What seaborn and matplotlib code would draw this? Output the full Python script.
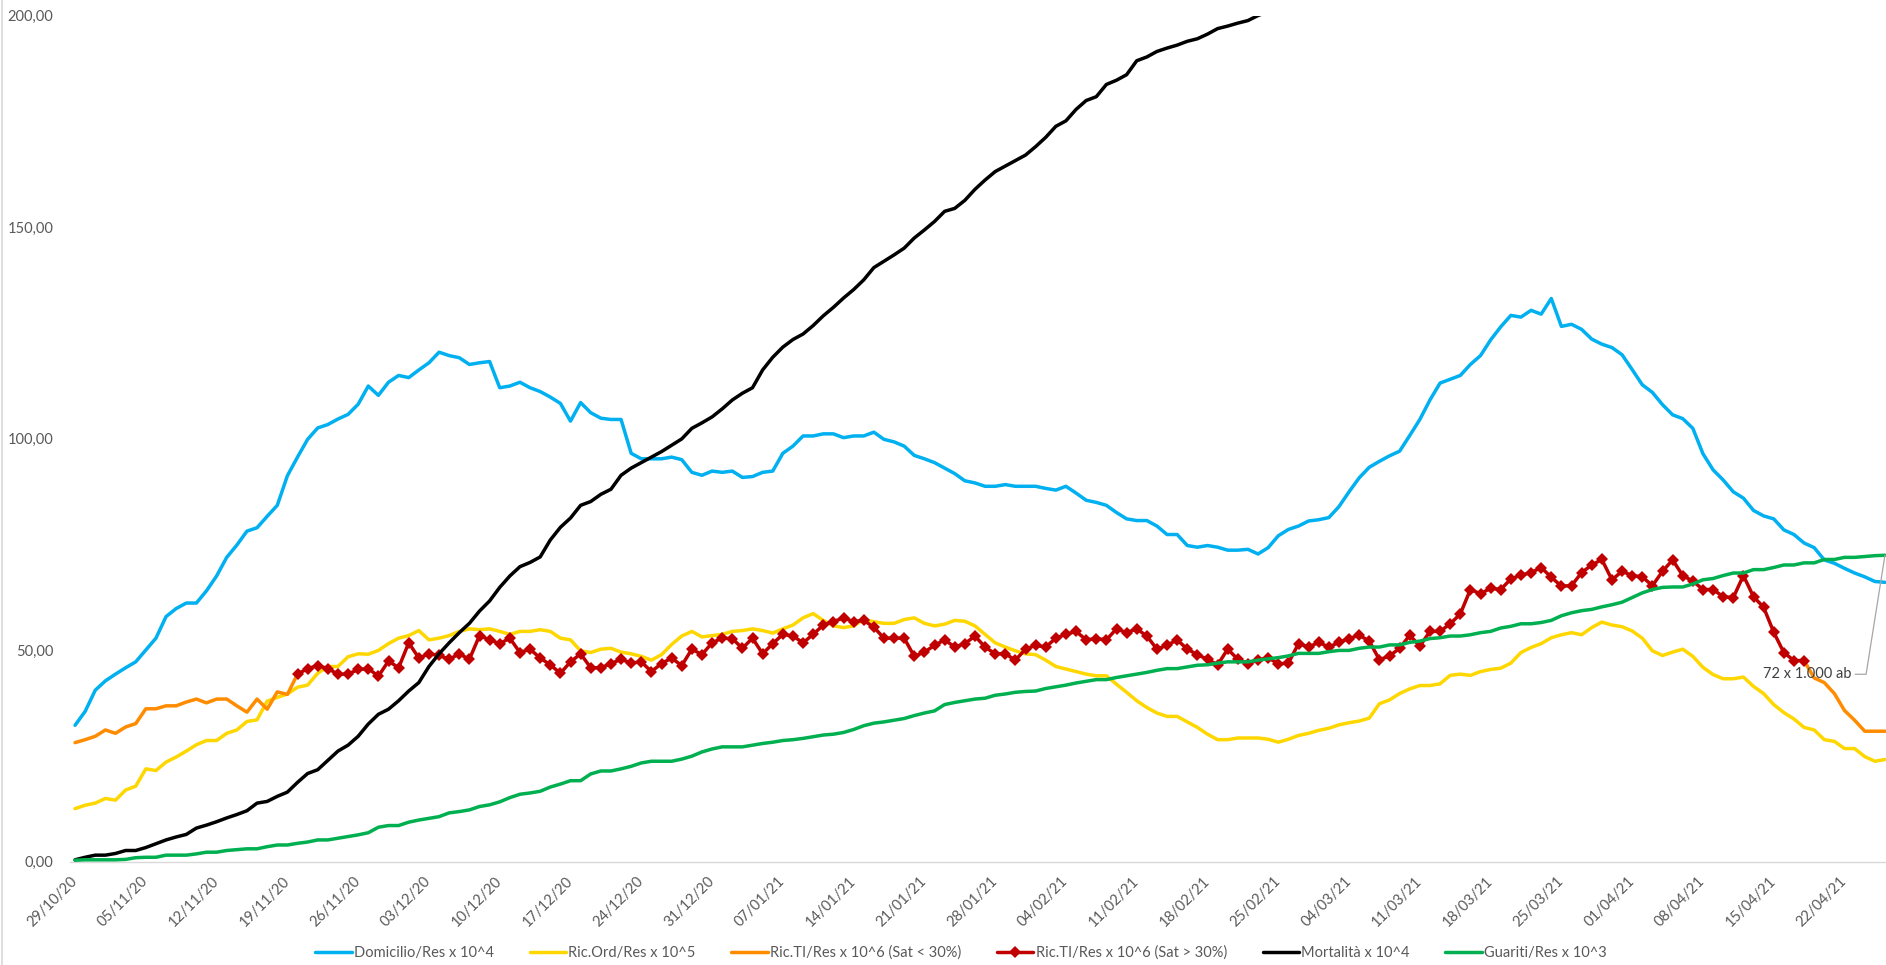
import pandas as pd
import matplotlib
matplotlib.use("Agg")
import matplotlib.pyplot as plt
import matplotlib.ticker as mticker
from matplotlib.lines import Line2D
import seaborn as sns

# ---------------------------------------------------------------- data
start_date = "2020-10-29"
n_days = 180

tick_labels = ["29/10/20", "05/11/20", "12/11/20", "19/11/20", "26/11/20",
               "03/12/20", "10/12/20", "17/12/20", "24/12/20", "31/12/20",
               "07/01/21", "14/01/21", "21/01/21", "28/01/21", "04/02/21",
               "11/02/21", "18/02/21", "25/02/21", "04/03/21", "11/03/21",
               "18/03/21", "25/03/21", "01/04/21", "08/04/21", "15/04/21",
               "22/04/21"]

series_names = ["Domicilio/Res x 10^4", "Ric.Ord/Res x 10^5",
                "Ric.TI/Res x 10^6 (Sat < 30%)", "Ric.TI/Res x 10^6 (Sat > 30%)",
                "Mortalità x 10^4", "Guariti/Res x 10^3"]

domicilio = [
    32.2, 35.5, 40.5, 42.7, 44.3, 45.8, 47.2, 50.0, 52.8, 57.9,
    59.8, 61.1, 61.1, 64.0, 67.5, 71.9, 74.8, 78.1, 78.9, 81.6,
    84.2, 91.2, 95.6, 99.8, 102.5, 103.3, 104.6, 105.7, 108.1, 112.4,
    110.2, 113.3, 114.9, 114.4, 116.2, 117.9, 120.4, 119.6, 119.1, 117.5,
    117.9, 118.2, 112.0, 112.4, 113.3, 112.0, 111.1, 109.8, 108.3, 104.1,
    108.5, 106.1, 104.8, 104.5, 104.5, 96.5, 95.2, 95.2, 95.2, 95.6,
    95.0, 92.0, 91.3, 92.3, 92.0, 92.3, 90.8, 91.0, 92.0, 92.3,
    96.5, 98.2, 100.6, 100.6, 101.1, 101.1, 100.2, 100.6, 100.6, 101.5,
    99.8, 99.2, 98.2, 96.0, 95.2, 94.3, 93.0, 91.7, 90.0, 89.5,
    88.7, 88.7, 89.1, 88.7, 88.7, 88.7, 88.2, 87.8, 88.7, 87.1,
    85.4, 84.9, 84.2, 82.5, 81.0, 80.6, 80.6, 79.3, 77.3, 77.3,
    74.7, 74.3, 74.7, 74.3, 73.6, 73.6, 73.8, 72.7, 74.2, 77.0,
    78.5, 79.3, 80.5, 80.8, 81.3, 83.9, 87.4, 90.7, 93.2, 94.6,
    95.9, 97.0, 100.7, 104.5, 109.1, 113.1, 114.0, 114.9, 117.5, 119.6,
    123.3, 126.4, 129.1, 128.7, 130.3, 129.4, 133.1, 126.5, 127.0, 125.8,
    123.5, 122.3, 121.5, 119.8, 116.3, 112.7, 110.9, 108.0, 105.6, 104.7,
    102.4, 96.4, 92.6, 90.2, 87.4, 85.9, 83.0, 81.7, 81.0, 78.4,
    77.3, 75.3, 74.2, 71.3, 70.5, 69.3, 68.2, 67.3, 66.2, 66.0,
]

ric_ord = [
    12.5, 13.3, 13.8, 14.9, 14.5, 16.9, 17.8, 21.9, 21.5, 23.5,
    24.7, 26.1, 27.6, 28.6, 28.6, 30.3, 31.1, 33.1, 33.5, 37.9,
    38.8, 39.6, 41.2, 41.7, 44.5, 46.1, 46.1, 48.4, 49.1, 49.0,
    49.9, 51.5, 52.8, 53.4, 54.6, 52.4, 52.8, 53.4, 54.4, 55.0,
    54.8, 55.0, 54.4, 53.7, 54.4, 54.4, 54.8, 54.4, 52.8, 52.4,
    49.8, 49.4, 50.2, 50.4, 49.5, 49.1, 48.5, 47.6, 48.9, 51.3,
    53.3, 54.4, 53.1, 53.4, 53.7, 54.4, 54.6, 55.0, 54.6, 54.0,
    55.0, 55.9, 57.6, 58.6, 57.0, 55.7, 55.3, 55.7, 57.2, 56.7,
    56.3, 56.3, 57.2, 57.6, 56.3, 55.7, 56.1, 57.0, 56.8, 55.7,
    53.7, 51.7, 50.7, 49.8, 49.1, 48.9, 47.6, 46.1, 45.5, 44.9,
    44.3, 43.9, 43.9, 41.9, 40.0, 38.0, 36.4, 35.1, 34.3, 34.3,
    33.0, 31.7, 30.1, 28.8, 28.8, 29.2, 29.2, 29.2, 28.9, 28.2,
    28.9, 29.8, 30.3, 31.0, 31.5, 32.3, 32.8, 33.2, 33.9, 37.3,
    38.2, 39.7, 40.8, 41.6, 41.6, 42.0, 44.0, 44.3, 44.0, 44.9,
    45.4, 45.7, 46.9, 49.4, 50.6, 51.5, 52.9, 53.6, 54.1, 53.6,
    55.3, 56.6, 55.9, 55.5, 54.5, 52.8, 49.8, 48.7, 49.5, 50.2,
    48.5, 45.9, 44.2, 43.2, 43.2, 43.6, 41.4, 39.7, 37.1, 35.2,
    33.7, 31.7, 31.1, 28.8, 28.4, 26.7, 26.7, 24.8, 23.7, 24.1,
]

# intensive care, occupancy below 30% (only the first and last weeks)
ric_ti_low = ([28.1, 28.8, 29.6, 31.1, 30.3, 31.8, 32.6, 36.1, 36.1, 36.8,
               36.8, 37.7, 38.4, 37.5, 38.4, 38.4, 36.8, 35.3, 38.4, 36.0,
               40.1, 39.5, 44.3]
              + [None] * 148
              + [47.5, 43.4, 42.3, 39.7, 35.7, 33.4, 30.8, 30.8, 30.8])

# intensive care, occupancy above 30%
ric_ti_high = ([None] * 22
               + [44.3, 45.6, 46.3, 45.6, 44.3, 44.3, 45.4, 45.6,
                  43.8, 47.4, 45.8, 51.7, 48.1, 49.1, 48.7, 47.8, 49.1, 47.8,
                  53.4, 52.4, 51.5, 52.8, 49.4, 50.2, 48.1, 46.5, 44.5, 47.2,
                  49.1, 45.8, 45.8, 46.8, 47.8, 46.9, 47.2, 44.9, 46.8, 48.1,
                  46.3, 50.2, 48.9, 51.7, 52.8, 52.7, 50.4, 52.8, 49.1, 51.5,
                  53.7, 53.3, 51.7, 53.7, 55.9, 56.7, 57.6, 56.7, 57.0, 55.4,
                  52.8, 52.8, 52.8, 48.5, 49.5, 51.1, 52.4, 50.7, 51.5, 53.3,
                  50.7, 49.1, 49.1, 47.6, 50.2, 51.1, 50.7, 52.8, 53.7, 54.4,
                  52.4, 52.7, 52.4, 55.0, 54.1, 55.0, 53.3, 50.2, 51.1, 52.4,
                  50.2, 48.9, 47.8, 46.5, 50.2, 47.8, 46.8, 47.6, 48.2, 46.7,
                  46.9, 51.5, 50.7, 51.8, 50.7, 51.8, 52.7, 53.5, 52.1, 47.7,
                  48.6, 50.4, 53.5, 50.9, 54.4, 54.4, 56.2, 58.5, 64.3, 63.3,
                  64.6, 64.3, 66.8, 67.7, 68.3, 69.5, 67.2, 65.1, 65.2, 68.3,
                  70.1, 71.4, 66.6, 68.6, 67.6, 67.3, 65.2, 68.6, 71.3, 67.6,
                  66.3, 64.3, 64.3, 62.6, 62.4, 67.6, 62.6, 60.1, 54.2, 49.4,
                  47.5, 47.5]
               + [None] * 8)

mortalita = ([
    0.4, 1.0, 1.5, 1.5, 1.9, 2.6, 2.6, 3.3, 4.2, 5.1,
    5.8, 6.4, 7.9, 8.6, 9.4, 10.3, 11.1, 12.0, 13.8, 14.2,
    15.4, 16.4, 18.7, 20.8, 21.7, 23.9, 26.1, 27.5, 29.6, 32.5,
    34.8, 36.0, 38.0, 40.3, 42.3, 46.1, 49.1, 51.7, 54.1, 56.3,
    59.2, 61.6, 64.8, 67.5, 69.7, 70.7, 72.0, 76.0, 79.0, 81.2,
    84.2, 85.1, 86.8, 88.0, 91.3, 93.0, 94.3, 95.6, 96.9, 98.4,
    99.9, 102.4, 103.7, 105.1, 107.0, 109.1, 110.7, 112.0, 116.2, 119.2,
    121.6, 123.4, 124.7, 126.7, 129.0, 131.0, 133.2, 135.2, 137.5, 140.4,
    141.9, 143.4, 145.0, 147.4, 149.3, 151.3, 153.7, 154.4, 156.3, 158.9,
    161.1, 163.1, 164.4, 165.7, 167.0, 169.0, 171.2, 173.8, 175.1, 177.8,
    179.9, 180.8, 183.7, 184.7, 186.0, 189.3, 190.2, 191.5, 192.3, 193.0,
    193.9, 194.5, 195.6, 196.9, 197.5, 198.2, 198.8, 200.0, 200.9,
] + [None] * 61)

guariti = [
    0.3, 0.4, 0.4, 0.4, 0.4, 0.5, 0.9, 1.0, 1.0, 1.5,
    1.5, 1.5, 1.8, 2.2, 2.2, 2.6, 2.8, 3.0, 3.0, 3.5,
    3.9, 3.9, 4.3, 4.6, 5.1, 5.1, 5.5, 5.9, 6.3, 6.8,
    8.1, 8.5, 8.5, 9.3, 9.8, 10.2, 10.6, 11.5, 11.8, 12.2,
    13.0, 13.4, 14.1, 15.1, 15.9, 16.2, 16.6, 17.6, 18.3, 19.1,
    19.1, 20.7, 21.4, 21.4, 21.9, 22.5, 23.3, 23.7, 23.7, 23.7,
    24.2, 24.9, 25.9, 26.6, 27.1, 27.1, 27.1, 27.5, 27.9, 28.2,
    28.6, 28.8, 29.1, 29.5, 29.9, 30.1, 30.5, 31.2, 32.1, 32.7,
    33.0, 33.4, 33.8, 34.5, 35.1, 35.6, 37.1, 37.6, 38.0, 38.4,
    38.6, 39.3, 39.6, 40.0, 40.2, 40.3, 40.9, 41.3, 41.7, 42.2,
    42.6, 43.0, 43.0, 43.5, 43.9, 44.3, 44.7, 45.2, 45.6, 45.6,
    46.0, 46.4, 46.5, 46.9, 47.2, 47.2, 47.2, 47.6, 47.9, 48.2,
    48.6, 49.2, 49.2, 49.2, 49.6, 49.9, 49.9, 50.4, 50.7, 50.7,
    51.2, 51.2, 51.8, 52.1, 52.7, 52.9, 53.3, 53.3, 53.6, 54.1,
    54.4, 55.2, 55.6, 56.2, 56.2, 56.5, 57.0, 58.1, 58.8, 59.3,
    59.6, 60.2, 60.7, 61.3, 62.4, 63.5, 64.3, 64.8, 64.9, 64.9,
    65.6, 66.6, 66.9, 67.6, 68.2, 68.2, 69.0, 69.0, 69.5, 70.1,
    70.1, 70.6, 70.6, 71.4, 71.4, 71.9, 71.9, 72.1, 72.3, 72.4,
]

colors = ["#00B0F0", "#FFD700", "#FF8C00", "#C00000", "#000000", "#00B050"]

# ---------------------------------------------------------------- style
sns.set_style("white")
plt.rcParams["font.family"] = ["Lato", "DejaVu Sans"]
TEXT_GREY = "#595959"
AXIS_GREY = "#D9D9D9"
LW = 2.5
MS = 6.5

W, H = 1886, 965
fig = plt.figure(figsize=(W / 100, H / 100), dpi=100)
ax = fig.add_axes([70 / W, 103.5 / H, 1820 / W, 846 / H])

# one point per day, centred inside its day interval
day0 = pd.Timestamp(start_date)
days = pd.date_range(day0, periods=n_days, freq="D") + pd.Timedelta(hours=12)


def runs(values):
    """Split a list with gaps into contiguous runs (Series indexed by date)."""
    s = pd.Series(values, index=days, dtype="float")
    mask = s.notna()
    groups = (mask != mask.shift()).cumsum()
    for _, chunk in s[mask].groupby(groups[mask]):
        yield chunk


all_series = [domicilio, ric_ord, ric_ti_low, ric_ti_high, mortalita, guariti]
for i, (vals, col) in enumerate(zip(all_series, colors)):
    for chunk in runs(vals):
        kw = dict(marker="D", markersize=MS, markeredgewidth=0) if i == 3 else {}
        sns.lineplot(x=chunk.index, y=chunk.values, ax=ax, color=col,
                     linewidth=LW, legend=False, estimator=None,
                     zorder=2 + i, **kw)

# ---------------------------------------------------------------- axes
ax.set_ylim(0, 200)
ax.set_xlim(day0, day0 + pd.Timedelta(days=n_days))
ax.set_yticks([0, 50, 100, 150, 200])
ax.yaxis.set_major_formatter(
    mticker.FuncFormatter(lambda v, _: f"{v:.2f}".replace(".", ",")))

tick_pos = pd.to_datetime(tick_labels, format="%d/%m/%y")
ax.set_xticks(tick_pos)
ax.set_xticklabels(tick_labels)
for lbl in ax.get_xticklabels():
    lbl.set_rotation(45)
    lbl.set_ha("right")
    lbl.set_va("top")
    lbl.set_rotation_mode("anchor")

ax.tick_params(axis="x", length=5, width=1, color=AXIS_GREY, pad=4,
               labelsize=10.5, labelcolor=TEXT_GREY, direction="out")
ax.tick_params(axis="y", length=0, pad=12, labelsize=10.5, labelcolor=TEXT_GREY)
ax.set_xlabel("")
ax.set_ylabel("")
ax.grid(False)
for side in ("top", "right", "left"):
    ax.spines[side].set_visible(False)
ax.spines["bottom"].set_color(AXIS_GREY)
ax.spines["bottom"].set_linewidth(1)

# chart border on the left edge
fig.add_artist(Line2D([2 / W, 2 / W], [0, 1], transform=fig.transFigure,
                      color=AXIS_GREY, linewidth=1.2))

# data label on the last recovered value
last_val = guariti[-1]
ax.annotate(f"{last_val:.0f} x 1.000 ab",
            xy=(days[-1], last_val), xycoords="data",
            xytext=(-33, -119), textcoords="offset pixels",
            ha="right", va="center", fontsize=10.5, color="#404040",
            arrowprops=dict(arrowstyle="-", color="#A6A6A6", linewidth=0.9,
                            shrinkA=0, shrinkB=0, relpos=(1, 0.5),
                            connectionstyle="angle,angleA=0,angleB=81,rad=0"),
            annotation_clip=False, zorder=10)

# ---------------------------------------------------------------- legend
handles = []
for i, col in enumerate(colors):
    if i == 3:
        handles.append(Line2D([], [], color=col, linewidth=LW, marker="D",
                              markersize=MS, markeredgewidth=0))
    else:
        handles.append(Line2D([], [], color=col, linewidth=LW))
fig.legend(handles, series_names, loc="center",
           bbox_to_anchor=(961 / W, 12 / H), ncol=6, frameon=False,
           fontsize=10.5, labelcolor=TEXT_GREY, handlelength=2.5,
           handletextpad=0.15, columnspacing=2.45, borderaxespad=0,
           borderpad=0)

fig.savefig("out.png", dpi=100, facecolor="white")
